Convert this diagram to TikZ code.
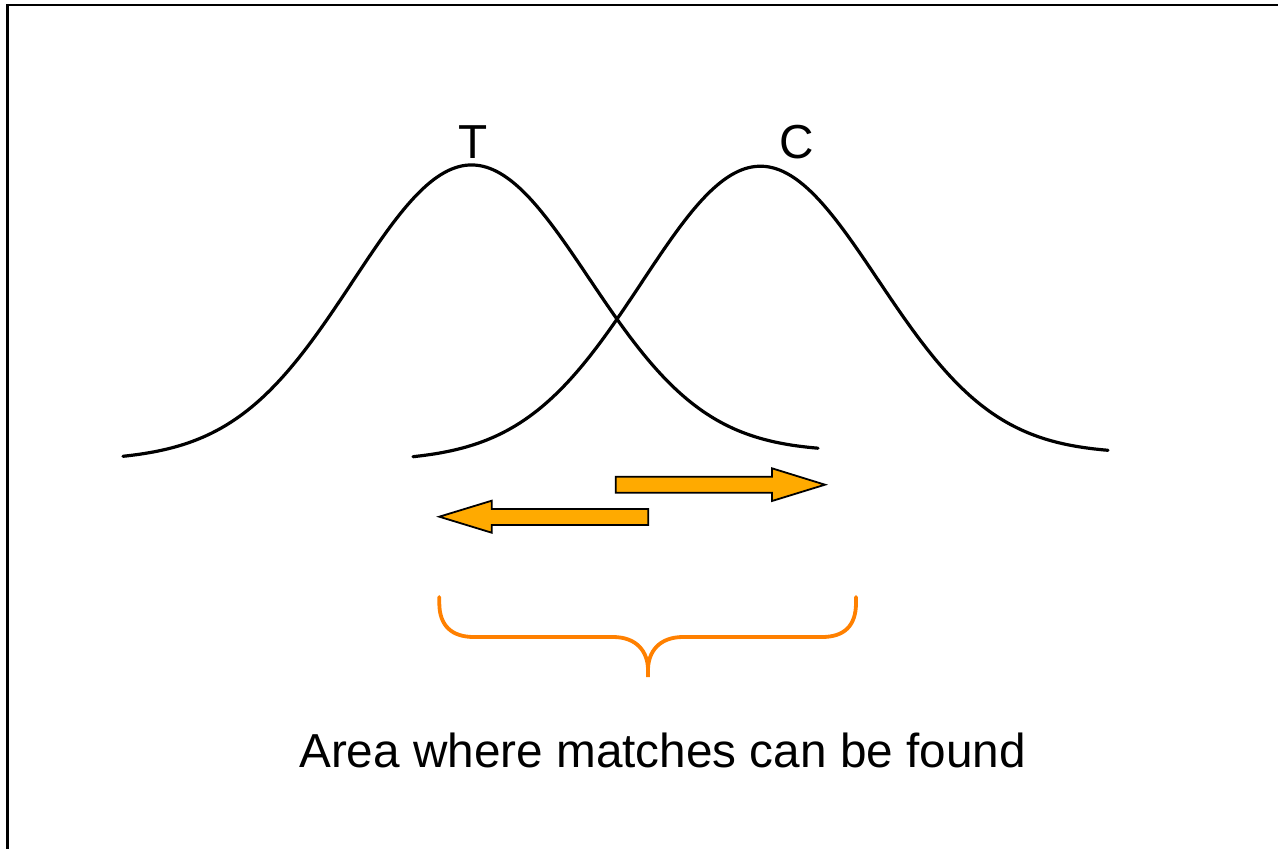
\documentclass[tikz,border=0pt]{standalone}
\usepackage{fontspec}
\setmainfont{Liberation Sans}
\definecolor{arroworange}{RGB}{255,170,0}
\definecolor{braceorange}{RGB}{255,128,0}
\tikzset{
  frameline/.style={line width=2.4pt, black},
  bell/.style={line width=3.2pt, black, line join=round, line cap=round},
  fatarrow/.style={fill=arroworange, draw=black, line width=1.8pt, line join=miter},
  bracepath/.style={draw=braceorange, line width=3.8pt, line cap=round},
  lbl/.style={font=\fontsize{47.7}{57}\selectfont, anchor=base, inner sep=0pt}
}
\begin{document}
\begin{tikzpicture}[x=1pt,y=-1pt]
\useasboundingbox (0,0) rectangle (1278,849);
% frame (only left and top sides visible)
\draw[frameline] (7.5,849) -- (7.5,5.2) -- (1278,5.2);
% bell curves
\draw[bell] plot[domain=123:818, samples=200, smooth]
  (\x, {460 - 8*(\x-123)/695 - 291*exp(-((\x-471)/100)^2/2.78)});
\draw[bell] plot[domain=413:1108, samples=200, smooth]
  (\x, {460.5 - 6.5*(\x-413)/695 - 291*exp(-((\x-760)/100)^2/2.78)});
% labels
\node[lbl] (T) at (473,158) {T};
\node[lbl] (C) at (797,158) {C};
% arrows
\draw[fatarrow] (615.7,476.7) -- (772,476.7) -- (772,468.3) -- (825,484.7)
  -- (772,501) -- (772,492.7) -- (615.7,492.7) -- cycle;
\draw[fatarrow] (648.3,509) -- (491.7,509) -- (491.7,500.7) -- (439.3,516.7)
  -- (491.7,532.7) -- (491.7,525) -- (648.3,525) -- cycle;
% brace
\coordinate (bl) at (439.3,597);
\coordinate (br) at (856,597);
\coordinate (bt) at (648,677);
\draw[bracepath] (bl) -- (439.3,603) .. controls (439.3,626) and (452,637) .. (474,637)
  -- (613,637) .. controls (637,637) and (648,652) .. (648,670) -- (bt)
  -- (648,670) .. controls (648,652) and (659,637) .. (683,637)
  -- (822,637) .. controls (844,637) and (856,626) .. (856,603) -- (br);
% caption
\node[lbl] (caption) at (662.5,767) {Area where matches can be found};
\end{tikzpicture}
\end{document}
